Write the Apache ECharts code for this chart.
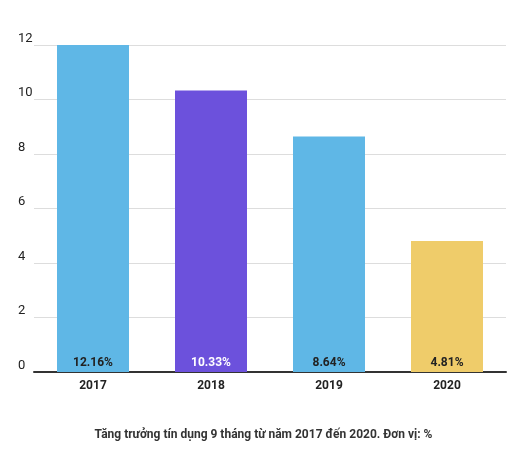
<!DOCTYPE html>
<html><head><meta charset="utf-8">
<script src="https://cdn.jsdelivr.net/npm/echarts@6/dist/echarts.min.js"></script>
<style>body{margin:0;background:#fff}#c{width:527px;height:461px}</style>
</head><body><div id="c"></div>
<script>
var years = ['2017', '2018', '2019', '2020'];
var growth = [12.16, 10.33, 8.64, 4.81];
var colors = ['#5fb7e6', '#6c51dc', '#5fb7e6', '#efcc6a'];
var labelColors = ['#222', '#fff', '#222', '#222'];

var chart = echarts.init(document.getElementById('c'));
chart.setOption({
    animation: false,
    textStyle: { fontFamily: 'Roboto' },
    title: {
        text: 'Tăng trưởng tín dụng 9 tháng từ năm 2017 đến 2020. Đơn vị: %',
        left: 'center', top: 424,
        textStyle: { fontSize: 12, fontWeight: 'bold', color: '#333' }
    },
    grid: { left: 34, right: 21, top: 45, bottom: 89 },
    xAxis: {
        type: 'category', data: years,
        axisTick: { show: false },
        axisLine: { lineStyle: { color: '#333', width: 2 } },
        axisLabel: { color: '#222', fontWeight: 'bold', fontSize: 12, margin: 8 }
    },
    yAxis: {
        type: 'value', min: 0, max: 12, interval: 2,
        axisLabel: { color: '#222', fontSize: 13, align: 'left', margin: 16, verticalAlign: 'bottom' },
        splitLine: { lineStyle: { color: '#ddd' } }
    },
    series: [{
        type: 'bar', barWidth: 72,
        data: growth.map(function (v, i) {
            return {
                value: v,
                itemStyle: { color: colors[i] },
                label: { color: labelColors[i] }
            };
        }),
        label: {
            show: true, position: 'insideBottom', distance: 3,
            fontWeight: 'bold', fontSize: 12,
            formatter: function (p) { return p.value.toFixed(2) + '%'; }
        }
    }]
});
</script></body></html>
